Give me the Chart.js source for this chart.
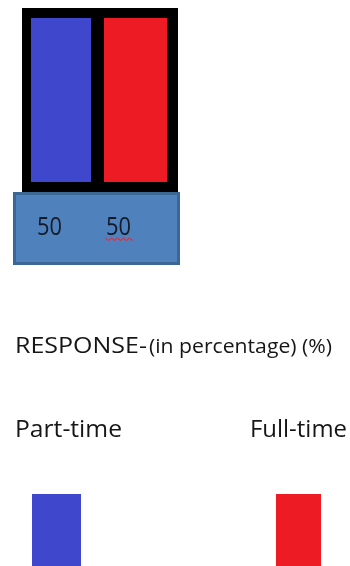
<!DOCTYPE html>
<html>
<head>
<meta charset="utf-8">
<script src="https://cdn.jsdelivr.net/npm/chart.js@4/dist/chart.umd.min.js"></script>
<style>
  html, body { margin: 0; padding: 0; background: #fff; }
  #chart { display: block; }
</style>
</head>
<body>
<canvas id="chart" width="350" height="566"></canvas>
<script>
// --- DONNEES ---
const categories = ["Part-time", "Full-time"];
const responsePct = [50, 50];
const barColors = ["#3f48cc", "#ed1c24"];
const titleParts = ["RESPONSE-", "(in percentage) (%)"];

// black frame is thicker on the outside than in the middle
const frameWidths = [
  { top: 10, left: 9, right: 9, bottom: 10 },
  { top: 10, left: 4, right: 11, bottom: 10 }
];

// draw text squeezed / stretched to a given width
function texteAjuste(ctx, txt, x, y, size, width, color, align) {
  ctx.save();
  ctx.font = size + "px 'Open Sans'";
  ctx.fillStyle = color;
  ctx.textBaseline = "alphabetic";
  ctx.textAlign = align || "left";
  const w = ctx.measureText(txt).width;
  ctx.translate(x, y);
  ctx.scale(width / w, 1);
  ctx.fillText(txt, 0, 0);
  ctx.restore();
}

const tableEtLegende = {
  id: "tableEtLegende",
  afterDraw(chart) {
    const ctx = chart.ctx;
    const area = chart.chartArea;
    const meta = chart.getDatasetMeta(0);

    // --- TABLE DES VALEURS ---
    const bx = area.left - 9, by = area.bottom;
    const bw = area.right - area.left + 11, bh = 73;
    ctx.save();
    ctx.fillStyle = "#4f81bd";
    ctx.fillRect(bx, by, bw, bh);
    ctx.strokeStyle = "#3b6795";
    ctx.lineWidth = 3;
    ctx.strokeRect(bx + 1.5, by + 1.5, bw - 3, bh - 3);
    ctx.restore();

    meta.data.forEach((bar, i) => {
      // values sit a little left of each bar's centre
      const cx = bar.x - 11.5 - 9 * i;
      texteAjuste(ctx, String(responsePct[i]), cx, by + 43, 25, 25, "#141a26", "center");
      if (i === 1) {
        // red spell-check squiggle
        ctx.save();
        ctx.strokeStyle = "#e8202a";
        ctx.lineWidth = 1;
        ctx.beginPath();
        let sx = cx - 13;
        ctx.moveTo(sx, by + 46);
        for (let k = 0; k < 9; k++) {
          sx += 3;
          ctx.lineTo(sx, by + (k % 2 === 0 ? 48.5 : 46));
        }
        ctx.stroke();
        ctx.restore();
      }
    });

    // --- TITRE ---
    texteAjuste(ctx, titleParts[0], 15, 353, 21, 132, "#161616");
    texteAjuste(ctx, titleParts[1], 149, 353, 20, 183, "#161616");

    // --- LEGENDE ---
    const labelX = [15, 250];
    const labelW = [107, 97];
    const swatchX = [32, 276];
    const swatchW = [49, 45];
    categories.forEach((cat, i) => {
      texteAjuste(ctx, cat, labelX[i], 437, 23, labelW[i], "#161616");
      ctx.fillStyle = barColors[i];
      ctx.fillRect(swatchX[i], 494, swatchW[i], 80);
    });
  }
};

const ctxBar = document.getElementById("chart").getContext("2d");
const chart = new Chart(ctxBar, {
  type: "bar",
  data: {
    labels: categories,
    datasets: [{
      label: titleParts.join(" "),
      data: responsePct,
      backgroundColor: barColors,
      borderColor: "#000000",
      borderWidth: c => frameWidths[c.dataIndex],
      borderSkipped: false,
      inflateAmount: 0,
      categoryPercentage: 1,
      barPercentage: 1
    }]
  },
  options: {
    responsive: false,
    animation: false,
    devicePixelRatio: 1,
    layout: { padding: { left: 22, right: 172, top: 8, bottom: 374 } },
    scales: {
      x: { display: false },
      y: { display: false, min: 0, max: 50 }
    },
    plugins: {
      legend: { display: false },
      title: { display: false },
      tooltip: { enabled: false }
    }
  },
  plugins: [tableEtLegende]
});
</script>
</body>
</html>
